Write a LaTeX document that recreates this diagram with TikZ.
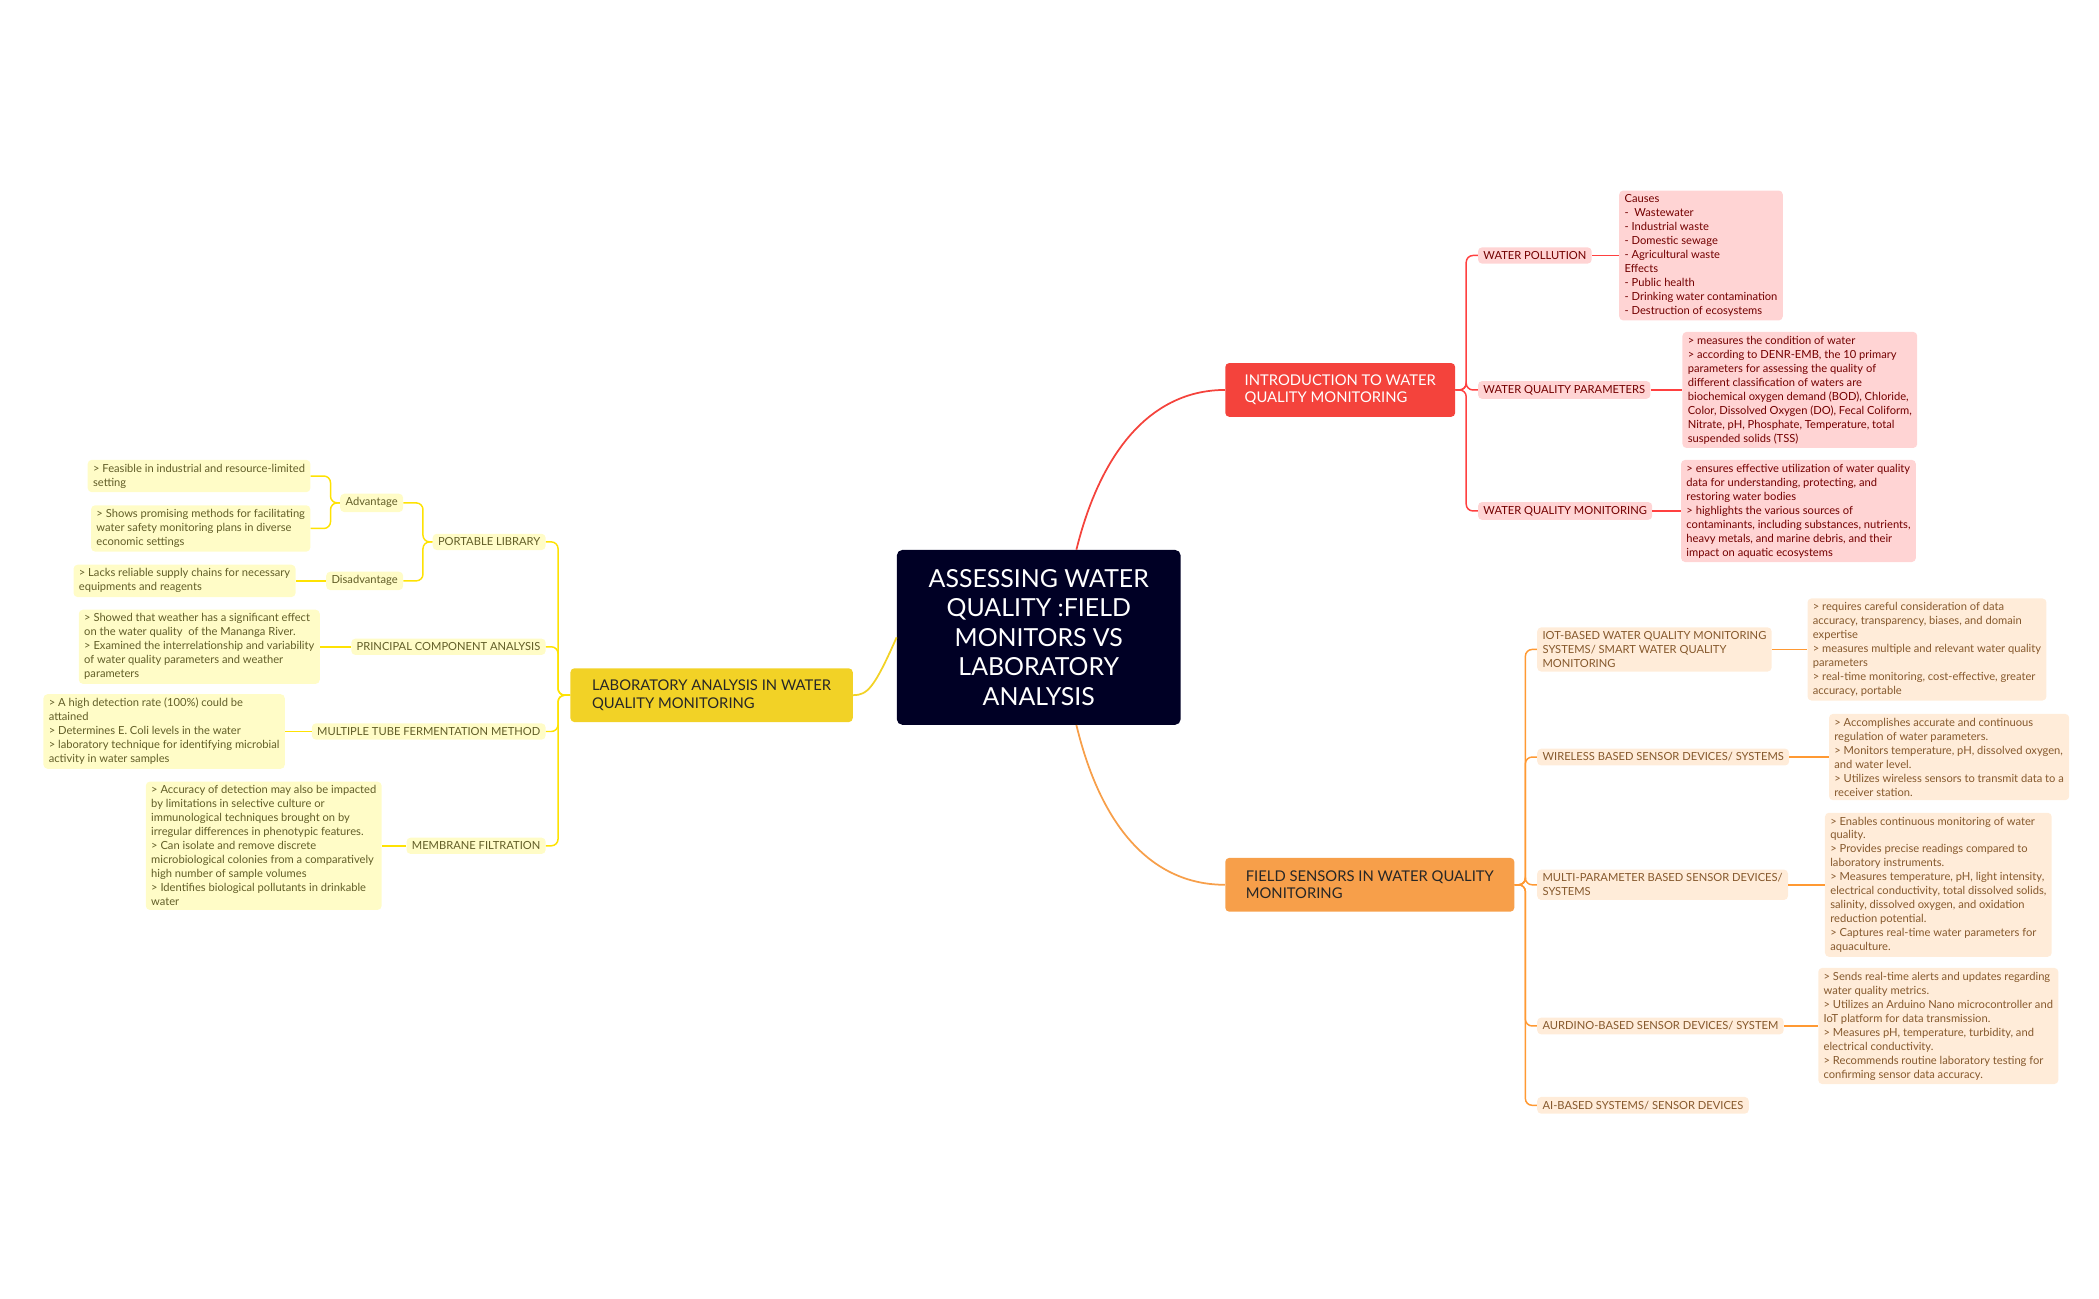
\documentclass[tikz,border=0pt]{standalone}
\usepackage{fontspec}
\setmainfont{Lato}
\begin{document}
\begin{tikzpicture}[x=1pt,y=-1pt,
 base/.style={rounded corners=3pt,inner xsep=4pt,inner ysep=3pt,align=left,font=\fontsize{8.3}{10.4}\selectfont},
 rsub/.style={base,fill=red!17,text=red!45!black},
 osub/.style={base,fill=orange!15,text=brown!70!black},
 ysub/.style={base,fill=yellow!22,text=olive!60!black},
 mainb/.style={rounded corners=3pt,inner xsep=11pt,inner ysep=5pt,align=left,font=\fontsize{11}{13}\selectfont},
 rl/.style={draw=red!75!white,line width=1.1pt,rounded corners=5pt},
 ol/.style={draw=orange!80!white,line width=1.1pt,rounded corners=5pt},
 yl/.style={draw=yellow!85!orange,line width=1.1pt,rounded corners=5pt}]
\useasboundingbox (0,0) rectangle (1561,966);
\definecolor{navy}{HTML}{000025}
\definecolor{ired}{HTML}{F4433C}
\definecolor{ford}{HTML}{F79F4A}
\definecolor{lyel}{HTML}{F2D226}
\node[fill=navy,rounded corners=4pt,text=white,minimum width=211pt,minimum height=130pt,align=center,font=\fontsize{18.5}{22}\selectfont] (c) at (772.5,474) {ASSESSING WATER\\QUALITY :FIELD\\MONITORS VS\\LABORATORY\\ANALYSIS};
\node[mainb,fill=ired,text=white,minimum width=171pt,minimum height=40pt,anchor=west] (intro) at (911,290) {INTRODUCTION TO WATER\\QUALITY MONITORING};
\node[mainb,fill=ford,text=black!85,minimum width=215pt,minimum height=40pt,anchor=west] (field) at (911,658) {FIELD SENSORS IN WATER QUALITY\\MONITORING};
\node[mainb,fill=lyel,text=black!85,minimum width=210pt,minimum height=40pt,anchor=west] (lab) at (424,517) {LABORATORY ANALYSIS IN WATER\\QUALITY MONITORING};
\draw[draw=ired,line width=1.3pt] (c.north) ++(28,0) coordinate (ct) (ct) .. controls (820,330) and (860,290) .. (intro.west);
\draw[draw=ford,line width=1.3pt] (c.south) ++(28,0) coordinate (cb) (cb) .. controls (820,620) and (860,658) .. (field.west);
\draw[draw=lyel,line width=1.3pt] (c.west) .. controls (650,512) and (645,517) .. (lab.east);
% intro
\node[rsub,anchor=west] (wp) at (1099,190) {WATER POLLUTION};
\node[rsub,anchor=west] (wqp) at (1099,290) {WATER QUALITY PARAMETERS};
\node[rsub,anchor=west] (wqm) at (1099,380) {WATER QUALITY MONITORING};
\node[rsub,anchor=west] (wpd) at (1204,190) {Causes\\-\ \ Wastewater\\- Industrial waste\\- Domestic sewage\\- Agricultural waste\\Effects\\- Public health\\- Drinking water contamination\\- Destruction of ecosystems};
\node[rsub,anchor=west] (wqpd) at (1251,290) {> measures the condition of water\\> according to DENR-EMB, the 10 primary\\parameters for assessing the quality of\\different classification of waters are\\biochemical oxygen demand (BOD), Chloride,\\Color, Dissolved Oxygen (DO), Fecal Coliform,\\Nitrate, pH, Phosphate, Temperature, total\\suspended solids (TSS)};
\node[rsub,anchor=west] (wqmd) at (1250,380) {> ensures effective utilization of water quality\\data for understanding, protecting, and\\restoring water bodies\\> highlights the various sources of\\contaminants, including substances, nutrients,\\heavy metals, and marine debris, and their\\impact on aquatic ecosystems};
\foreach \n in {wp,wqp,wqm} \draw[rl] (intro.east) -- ++(8,0) |- (\n.west);
\draw[rl] (wp.east) -- (wpd.west);
\draw[rl] (wqp.east) -- (wqpd.west);
\draw[rl] (wqm.east) -- (wqmd.west);
% field
\node[osub,anchor=west] (iot) at (1143,483) {IOT-BASED WATER QUALITY MONITORING\\SYSTEMS/ SMART WATER QUALITY\\MONITORING};
\node[osub,anchor=west] (wl) at (1143,563) {WIRELESS BASED SENSOR DEVICES/ SYSTEMS};
\node[osub,anchor=west] (mp) at (1143,658) {MULTI-PARAMETER BASED SENSOR DEVICES/\\SYSTEMS};
\node[osub,anchor=west] (ard) at (1143,763) {AURDINO-BASED SENSOR DEVICES/ SYSTEM};
\node[osub,anchor=west] (ai) at (1143,822) {AI-BASED SYSTEMS/ SENSOR DEVICES};
\node[osub,anchor=west] (iotd) at (1344,483) {> requires careful consideration of data\\accuracy, transparency, biases, and domain\\expertise\\> measures multiple and relevant water quality\\parameters\\> real-time monitoring, cost-effective, greater\\accuracy, portable};
\node[osub,anchor=west] (wld) at (1360,563) {> Accomplishes accurate and continuous\\regulation of water parameters.\\> Monitors temperature, pH, dissolved oxygen,\\and water level.\\> Utilizes wireless sensors to transmit data to a\\receiver station.};
\node[osub,anchor=west] (mpd) at (1357,658) {> Enables continuous monitoring of water\\quality.\\> Provides precise readings compared to\\laboratory instruments.\\> Measures temperature, pH, light intensity,\\electrical conductivity, total dissolved solids,\\salinity, dissolved oxygen, and oxidation\\reduction potential.\\> Captures real-time water parameters for\\aquaculture.};
\node[osub,anchor=west] (ardd) at (1352,763) {> Sends real-time alerts and updates regarding\\water quality metrics.\\> Utilizes an Arduino Nano microcontroller and\\IoT platform for data transmission.\\> Measures pH, temperature, turbidity, and\\electrical conductivity.\\> Recommends routine laboratory testing for\\confirming sensor data accuracy.};
\foreach \n in {iot,wl,mp,ard,ai} \draw[ol] (field.east) -- ++(8,0) |- (\n.west);
\draw[ol] (iot.east) -- (iotd.west);
\draw[ol] (wl.east) -- (wld.west);
\draw[ol] (mp.east) -- (mpd.west);
\draw[ol] (ard.east) -- (ardd.west);
% lab
\node[ysub,anchor=east] (pl) at (406,403) {PORTABLE LIBRARY};
\node[ysub,anchor=east] (pca) at (406,481) {PRINCIPAL COMPONENT ANALYSIS};
\node[ysub,anchor=east] (mt) at (406,544) {MULTIPLE TUBE FERMENTATION METHOD};
\node[ysub,anchor=east] (mf) at (406,629) {MEMBRANE FILTRATION};
\node[ysub,anchor=east] (adv) at (300,374) {Advantage};
\node[ysub,anchor=east] (dis) at (300,432) {Disadvantage};
\node[ysub,anchor=east] (a1) at (231,354) {> Feasible in industrial and resource-limited\\setting};
\node[ysub,anchor=east] (a2) at (231,393) {> Shows promising methods for facilitating\\water safety monitoring plans in diverse\\economic settings};
\node[ysub,anchor=east] (d1) at (220,432) {> Lacks reliable supply chains for necessary\\equipments and reagents};
\node[ysub,anchor=east] (pcad) at (238,481) {> Showed that weather has a significant effect\\on the water quality\ \ of the Mananga River.\\> Examined the interrelationship and variability\\of water quality parameters and weather\\parameters};
\node[ysub,anchor=east] (mtd) at (212,544) {> A high detection rate (100\%) could be\\attained\\> Determines E. Coli levels in the water\\> laboratory technique for identifying microbial\\activity in water samples};
\node[ysub,anchor=east] (mfd) at (284,629) {> Accuracy of detection may also be impacted\\by limitations in selective culture or\\immunological techniques brought on by\\irregular differences in phenotypic features.\\> Can isolate and remove discrete\\microbiological colonies from a comparatively\\high number of sample volumes\\> Identifies biological pollutants in drinkable\\water};
\foreach \n in {pl,pca,mt,mf} \draw[yl] (lab.west) -- ++(-9,0) |- (\n.east);
\foreach \n in {adv,dis} \draw[yl] (pl.west) -- ++(-7,0) |- (\n.east);
\foreach \n in {a1,a2} \draw[yl] (adv.west) -- ++(-7,0) |- (\n.east);
\draw[yl] (dis.west) -- (d1.east);
\draw[yl] (pca.west) -- (pcad.east);
\draw[yl] (mt.west) -- (mtd.east);
\draw[yl] (mf.west) -- (mfd.east);
\end{tikzpicture}
\end{document}
